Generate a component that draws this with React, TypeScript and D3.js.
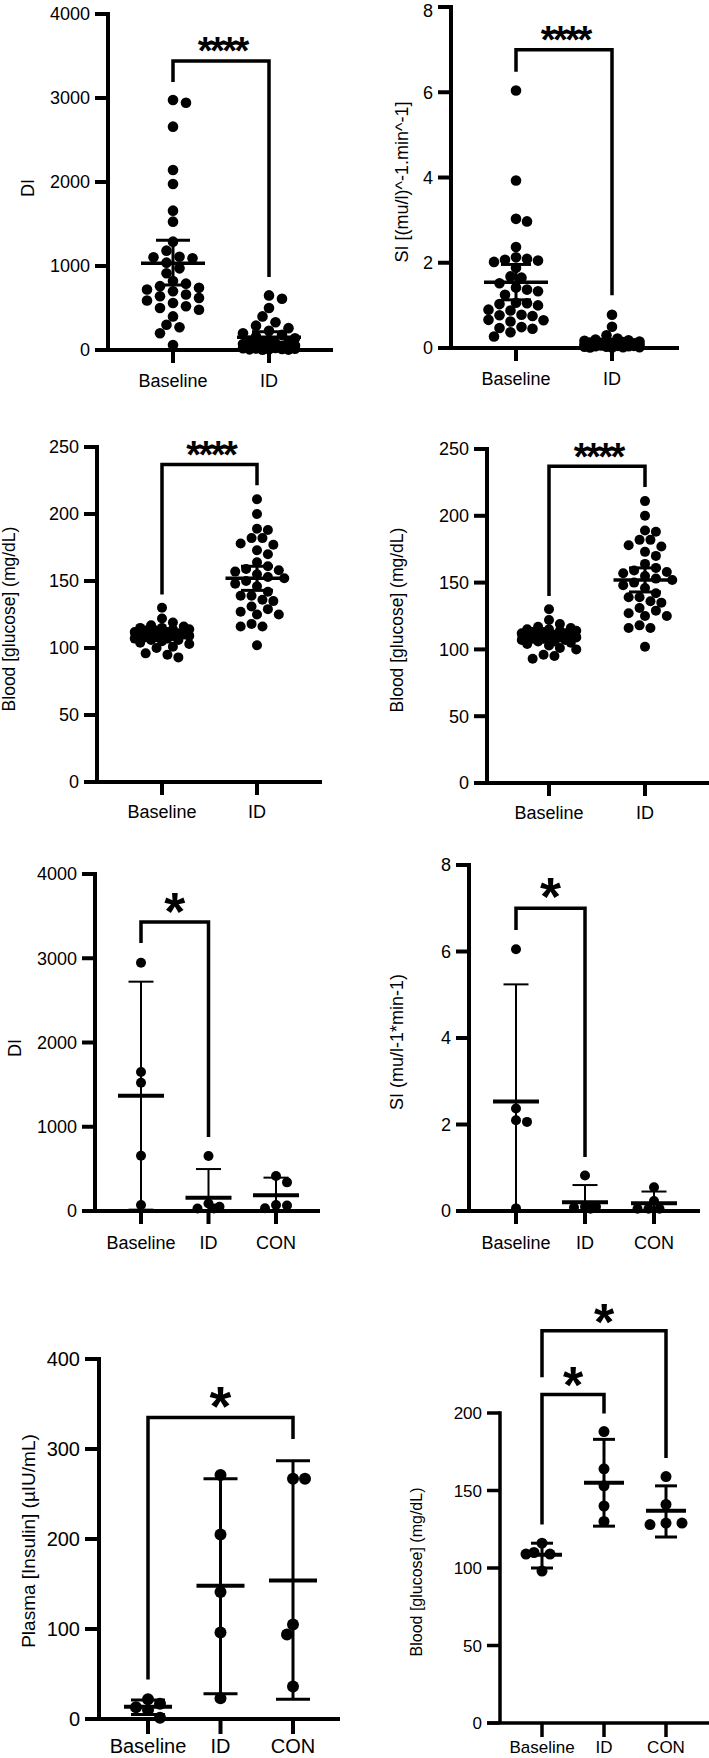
import React from "react";
import * as d3 from "d3";

const FONT = "'Liberation Sans', Arial, Helvetica, sans-serif";

// ---------------- DATA ----------------
const cats2 = ["Baseline", "ID"];
const cats3 = ["Baseline", "ID", "CON"];

const diTicks = [0, 1000, 2000, 3000, 4000];
const siTicks = [0, 2, 4, 6, 8];
const glucTicks = [0, 50, 100, 150, 200, 250];
const insTicks = [0, 100, 200, 300, 400];
const glu5Ticks = [0, 50, 100, 150, 200];

// Row 1 left: DI
const diBaseline = [2976, 2944, 2659, 2143, 1976, 1659, 1528, 1290, 1183, 1111, 1103, 1091, 1040, 972, 913, 820, 790, 760, 740, 720, 700, 660, 640, 620, 590, 560, 520, 500, 480, 400, 300, 270, 200, 60];
const diID = [650, 610, 500, 400, 330, 290, 260, 230, 200, 180, 160, 140, 120, 110, 100, 90, 80, 70, 60, 55, 50, 45, 40, 35, 30, 25, 20, 18, 15, 12, 10, 8, 5, 3];
const diMean = [1032, 151];
const diErrLow = [774, 85];
const diErrHigh = [1306, 218];

// Row 1 right: SI
const siBaseline = [6.04, 3.93, 3.03, 2.97, 2.37, 2.13, 2.09, 2.07, 2.05, 2.02, 1.88, 1.68, 1.65, 1.52, 1.42, 1.37, 1.33, 1.25, 1.06, 1.05, 1.03, 1.0, 0.9, 0.88, 0.78, 0.77, 0.75, 0.66, 0.65, 0.62, 0.49, 0.47, 0.45, 0.37, 0.27];
const siID = [0.78, 0.5, 0.3, 0.22, 0.2, 0.18, 0.17, 0.15, 0.15, 0.14, 0.13, 0.12, 0.12, 0.11, 0.1, 0.1, 0.09, 0.09, 0.08, 0.08, 0.07, 0.07, 0.06, 0.06, 0.05, 0.05, 0.04, 0.04, 0.03, 0.03, 0.02, 0.02, 0.01, 0.01];
const siMean = [1.54, 0.14];
const siErrLow = [1.13, 0.09];
const siErrHigh = [1.96, 0.19];

// Row 2: blood glucose (both panels)
const glucBaseline = [130, 122, 119, 117, 116, 115, 115, 114, 114, 113, 113, 112, 112, 111, 111, 110, 110, 110, 109, 109, 108, 108, 107, 107, 106, 106, 105, 104, 103, 101, 100, 96, 95, 93];
const glucID = [211, 200, 189, 188, 182, 182, 178, 177, 173, 170, 164, 161, 159, 158, 157, 155, 153, 152, 150, 148, 146, 142, 139, 139, 136, 135, 131, 129, 127, 125, 125, 118, 116, 116, 102];
const glucMean = [110, 152];
const glucErrLow = [108.5, 143];
const glucErrHigh = [111.5, 161];

// Row 3 left: DI (n=5)
const di5Baseline = [2947, 1650, 1523, 656, 71];
const di5ID = [653, 90, 50, 30, 30];
const di5CON = [415, 340, 71, 65, 32];
const di5Mean = [1369, 158, 186];
const di5ErrLow = [16, -182, -24];
const di5ErrHigh = [2722, 498, 396];

// Row 3 right: SI (n=5)
const si5Baseline = [6.05, 2.37, 2.1, 2.06, 0.06];
const si5ID = [0.82, 0.1, 0.1, 0.08, 0.05];
const si5CON = [0.55, 0.23, 0.05, 0.05, 0.05];
const si5Mean = [2.53, 0.2, 0.18];
const si5ErrLow = [-0.18, -0.2, -0.09];
const si5ErrHigh = [5.24, 0.6, 0.45];

// Row 4 left: plasma insulin
const insBaseline = [22, 17, 13, 10, 1.5];
const insID = [271, 205, 141, 96, 23];
const insCON = [267, 267, 105, 94, 36];
const insMean = [13.5, 148, 154];
const insErrLow = [5, 28, 22];
const insErrHigh = [21, 267, 287];

// Row 4 right: blood glucose (n=5)
const glu5Baseline = [116, 110, 109, 109, 98];
const glu5ID = [188, 164, 153, 140, 130];
const glu5CON = [159, 141, 128, 129, 129];
const glu5Mean = [108.5, 155, 137];
const glu5ErrLow = [100, 127, 120];
const glu5ErrHigh = [116, 183, 153];

// significance brackets
const diBrackets = [{ a: 0, b: 1, y: 3440, ya: 3190, yb: 870, label: "****" }];
const siBrackets = [{ a: 0, b: 1, y: 7.0, ya: 6.48, yb: 1.24, label: "****" }];
const glucBrackets = [{ a: 0, b: 1, y: 237, ya: 140, yb: 221.5, label: "****" }];
const di5Brackets = [{ a: 0, b: 1, y: 3430, ya: 3181, yb: 878, label: "*" }];
const si5Brackets = [{ a: 0, b: 1, y: 7.0, ya: 6.5, yb: 1.25, label: "*" }];
const insBrackets = [{ a: 0, b: 2, y: 335, ya: 44, yb: 311, label: "*" }];
const glu5Brackets = [
  { a: 0, b: 2, y: 253, ya: 223, yb: 171, label: "*" },
  { a: 0, b: 1, y: 212, ya: 128, yb: 199.6, label: "*" },
];

// ---------------- LAYOUT HELPERS ----------------
function swarmOffsets(ys: number[], r: number, step: number, maxOff: number): number[] {
  const order = ys.map((_, i) => i).sort((a, b) => ys[a] - ys[b]);
  const cands: number[] = [0];
  for (let k = 1; (k * step) / 2 <= maxOff + 0.01; k++) {
    if (k % 2 === 1) cands.push(-(k * step) / 2, (k * step) / 2);
    else cands.push((k * step) / 2, -(k * step) / 2);
  }
  const minD = 2 * r * 0.95;
  const placed: { x: number; y: number }[] = [];
  const out = new Array(ys.length).fill(0);
  for (const i of order) {
    const y = ys[i];
    let best = 0;
    let bestScore = -Infinity;
    for (const c of cands) {
      let md = Infinity;
      for (const p of placed) {
        const d = Math.hypot(p.x - c, p.y - y);
        if (d < md) md = d;
      }
      if (md >= minD) {
        best = c;
        bestScore = Infinity;
        break;
      }
      if (md > bestScore) {
        bestScore = md;
        best = c;
      }
    }
    placed.push({ x: best, y });
    out[i] = best;
  }
  return out;
}

type Bracket = { a: number; b: number; y: number; ya: number; yb: number; label: string };
type PanelSpec = {
  cats: string[];
  groups: number[][];
  mean: number[];
  lo: number[];
  hi: number[];
  ticks: number[];
  max: number;
  x0: number;
  xEnd: number;
  yTop: number;
  yBottom: number;
  catRange: [number, number];
  title: string;
  titleX: number;
  titleY: number;
  titleFont: number;
  tickFont: number;
  tickLen: number;
  xTickLen: number;
  xLabelDy: number;
  r: number;
  step: number;
  maxOff: number;
  meanHalf: number;
  capHalf: number;
  errW: number;
  meanW: number;
  axisW: number;
  brackets: Bracket[];
  bracketW: number;
  starFont: number;
  starOff: number;
  starSpacing: number;
};

function Panel({ p }: { p: PanelSpec }) {
  const y = d3.scaleLinear().domain([0, p.max]).range([p.yBottom, p.yTop]);
  const x = d3.scalePoint<string>().domain(p.cats).range(p.catRange);
  const ink = "#000";
  // keep tick labels inside the page (top edge)
  const labelY = (t: number) => Math.max(y(t), 0.56 * p.tickFont);
  return (
    <g fontFamily={FONT}>
      {p.groups.map((vals, gi) => {
        const cx = x(p.cats[gi]) as number;
        const ys = vals.map((v) => y(v));
        const offs = swarmOffsets(ys, p.r, p.step, p.maxOff);
        return (
          <g key={"pts" + gi}>
            {vals.map((v, i) => (
              <circle key={i} cx={cx + offs[i]} cy={ys[i]} r={p.r} fill={ink} />
            ))}
          </g>
        );
      })}
      {p.cats.map((c, gi) => {
        const cx = x(c) as number;
        const lowV = Math.max(p.lo[gi], 0);
        return (
          <g key={"err" + gi} stroke={ink}>
            <line x1={cx} x2={cx} y1={y(lowV)} y2={y(p.hi[gi])} strokeWidth={p.errW} />
            <line x1={cx - p.capHalf} x2={cx + p.capHalf} y1={y(p.hi[gi])} y2={y(p.hi[gi])} strokeWidth={p.errW} />
            {p.lo[gi] >= 0 && (
              <line x1={cx - p.capHalf} x2={cx + p.capHalf} y1={y(p.lo[gi])} y2={y(p.lo[gi])} strokeWidth={p.errW} />
            )}
            <line x1={cx - p.meanHalf} x2={cx + p.meanHalf} y1={y(p.mean[gi])} y2={y(p.mean[gi])} strokeWidth={p.meanW} />
          </g>
        );
      })}
      <line x1={p.x0} x2={p.x0} y1={y(p.max) - p.axisW / 2} y2={p.yBottom} stroke={ink} strokeWidth={p.axisW} />
      {p.ticks.map((t) => (
        <g key={"yt" + t}>
          <line x1={p.x0 - p.tickLen} x2={p.x0} y1={y(t)} y2={y(t)} stroke={ink} strokeWidth={p.axisW} />
          <text x={p.x0 - p.tickLen - 5} y={labelY(t)} dy="0.36em" textAnchor="end" fontSize={p.tickFont} fill={ink}>
            {String(t)}
          </text>
        </g>
      ))}
      <line x1={p.x0 - p.tickLen} x2={p.xEnd} y1={p.yBottom} y2={p.yBottom} stroke={ink} strokeWidth={p.axisW} />
      {p.cats.map((c) => (
        <g key={"xt" + c}>
          <line x1={x(c) as number} x2={x(c) as number} y1={p.yBottom} y2={p.yBottom + p.xTickLen} stroke={ink} strokeWidth={p.axisW} />
          <text x={x(c) as number} y={p.yBottom + p.xLabelDy} textAnchor="middle" fontSize={p.tickFont} fill={ink}>
            {c}
          </text>
        </g>
      ))}
      <text
        transform={`translate(${p.titleX},${p.titleY}) rotate(-90)`}
        textAnchor="middle"
        dy="0.36em"
        fontSize={p.titleFont}
        fill={ink}
      >
        {p.title}
      </text>
      {p.brackets.map((b, bi) => {
        const xa = x(p.cats[b.a]) as number;
        const xb = x(p.cats[b.b]) as number;
        const path = d3.path();
        path.moveTo(xa, y(b.ya));
        path.lineTo(xa, y(b.y));
        path.lineTo(xb, y(b.y));
        path.lineTo(xb, y(b.yb));
        return (
          <g key={"br" + bi}>
            <path d={path.toString()} fill="none" stroke={ink} strokeWidth={p.bracketW} strokeLinejoin="miter" />
            <text
              x={(xa + xb) / 2 + (b.label.length > 1 ? -p.starSpacing / 2 : 0)}
              y={y(b.y) - p.starOff + 0.553 * p.starFont}
              textAnchor="middle"
              fontSize={p.starFont}
              fontWeight="bold"
              letterSpacing={b.label.length > 1 ? p.starSpacing : 0}
              fill={ink}
            >
              {b.label}
            </text>
          </g>
        );
      })}
    </g>
  );
}

const base = {
  tickLen: 13,
  xTickLen: 13,
  tickFont: 18,
  titleFont: 18,
  axisW: 4,
  bracketW: 3.5,
  errW: 3,
  meanW: 3.5,
};

const panels: PanelSpec[] = [
  {
    ...base,
    cats: cats2, groups: [diBaseline, diID], mean: diMean, lo: diErrLow, hi: diErrHigh,
    ticks: diTicks, max: 4000, x0: 108, xEnd: 333, yTop: 14, yBottom: 350, catRange: [173, 269],
    title: "DI", titleX: 28, titleY: 188, xLabelDy: 37,
    r: 5.3, step: 13, maxOff: 32, meanHalf: 32, capHalf: 17,
    brackets: diBrackets, starFont: 38, starOff: 18, starSpacing: -2.5,
  },
  {
    ...base,
    cats: cats2, groups: [siBaseline, siID], mean: siMean, lo: siErrLow, hi: siErrHigh,
    ticks: siTicks, max: 8, x0: 451, xEnd: 679, yTop: 7, yBottom: 348, catRange: [516, 612],
    title: "SI [(mu/l)^-1.min^-1]", titleX: 402, titleY: 182, xLabelDy: 37,
    r: 5.3, step: 11, maxOff: 32, meanHalf: 32, capHalf: 15,
    brackets: siBrackets, starFont: 38, starOff: 18, starSpacing: -2.5,
  },
  {
    ...base,
    cats: cats2, groups: [glucBaseline, glucID], mean: glucMean, lo: glucErrLow, hi: glucErrHigh,
    ticks: glucTicks, max: 250, x0: 97, xEnd: 322, yTop: 447, yBottom: 782, catRange: [162, 257],
    title: "Blood [glucose] (mg/dL)", titleX: 9, titleY: 619, titleFont: 17.5, xLabelDy: 36,
    r: 5, step: 10.9, maxOff: 32, meanHalf: 31.5, capHalf: 16,
    brackets: glucBrackets, starFont: 38, starOff: 17, starSpacing: -2.5,
  },
  {
    ...base,
    cats: cats2, groups: [glucBaseline, glucID], mean: glucMean, lo: glucErrLow, hi: glucErrHigh,
    ticks: glucTicks, max: 250, x0: 487, xEnd: 709, yTop: 449, yBottom: 783, catRange: [549, 645],
    title: "Blood [glucose] (mg/dL)", titleX: 397, titleY: 620, titleFont: 17.5, xLabelDy: 36,
    r: 5, step: 10.9, maxOff: 32, meanHalf: 31.5, capHalf: 16,
    brackets: glucBrackets, starFont: 38, starOff: 17, starSpacing: -2.5,
  },
  {
    ...base,
    cats: cats3, groups: [di5Baseline, di5ID, di5CON], mean: di5Mean, lo: di5ErrLow, hi: di5ErrHigh,
    ticks: diTicks, max: 4000, x0: 95, xEnd: 320, yTop: 874, yBottom: 1211, catRange: [141, 276],
    title: "DI", titleX: 15, titleY: 1048, xLabelDy: 38,
    r: 5, step: 11, maxOff: 20, meanHalf: 23, capHalf: 12.5, errW: 2, meanW: 4,
    brackets: di5Brackets, starFont: 54, starOff: 22, starSpacing: 0,
  },
  {
    ...base,
    cats: cats3, groups: [si5Baseline, si5ID, si5CON], mean: si5Mean, lo: si5ErrLow, hi: si5ErrHigh,
    ticks: siTicks, max: 8, x0: 469, xEnd: 700, yTop: 865, yBottom: 1211, catRange: [516, 654],
    title: "SI (mu/l-1*min-1)", titleX: 397, titleY: 1042, xLabelDy: 38,
    r: 5, step: 11, maxOff: 20, meanHalf: 23, capHalf: 12.5, errW: 2, meanW: 4,
    brackets: si5Brackets, starFont: 54, starOff: 23, starSpacing: 0,
  },
  {
    ...base,
    cats: cats3, groups: [insBaseline, insID, insCON], mean: insMean, lo: insErrLow, hi: insErrHigh,
    ticks: insTicks, max: 400, x0: 99, xEnd: 340, yTop: 1359, yBottom: 1719, catRange: [148, 293],
    title: "Plasma [Insulin] (µIU/mL)", titleX: 28, titleY: 1541, titleFont: 19, tickFont: 20,
    tickLen: 14, xTickLen: 15, xLabelDy: 34,
    r: 6, step: 12, maxOff: 22, meanHalf: 24, capHalf: 17, errW: 3, meanW: 4,
    brackets: insBrackets, starFont: 56, starOff: 23, starSpacing: 0,
  },
  {
    ...base,
    cats: cats3, groups: [glu5Baseline, glu5ID, glu5CON], mean: glu5Mean, lo: glu5ErrLow, hi: glu5ErrHigh,
    ticks: glu5Ticks, max: 200, x0: 500, xEnd: 709, yTop: 1413, yBottom: 1723, catRange: [542, 666],
    title: "Blood [glucose] (mg/dL)", titleX: 416, titleY: 1572, titleFont: 16, tickFont: 17,
    tickLen: 13, xTickLen: 14, xLabelDy: 30, axisW: 3.5,
    r: 5.5, step: 16, maxOff: 20, meanHalf: 20, capHalf: 11, errW: 3, meanW: 4,
    brackets: glu5Brackets, starFont: 52, starOff: 20, starSpacing: 0,
  },
];

export default function App() {
  return (
    <svg
      width={709}
      height={1758}
      viewBox="0 0 709 1758"
      style={{ position: "absolute", left: 0, top: 0, background: "#fff" }}
    >
      <rect x={0} y={0} width={709} height={1758} fill="#fff" />
      {panels.map((p, i) => (
        <Panel key={i} p={p} />
      ))}
    </svg>
  );
}
